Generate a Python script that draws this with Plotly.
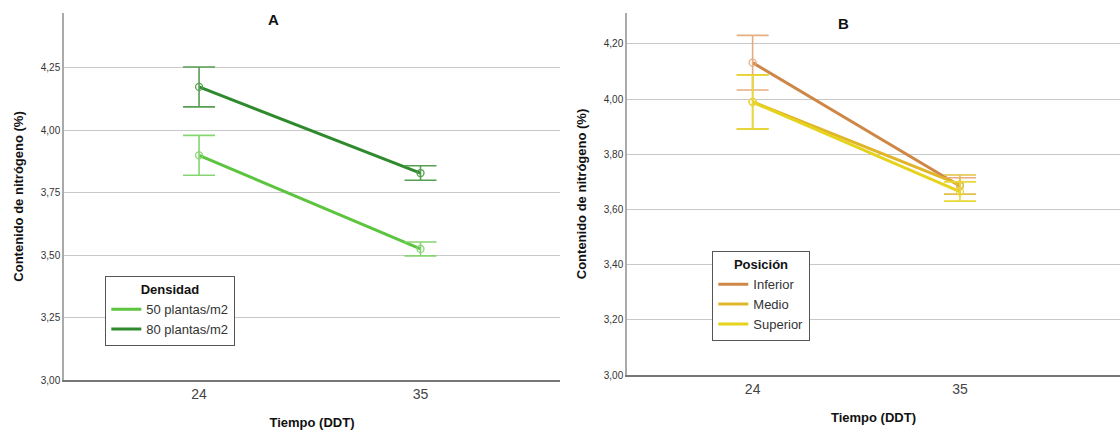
import plotly.graph_objects as go

# ---- data ----
tiempo = ["24", "35"]

# Panel A: Densidad
dens_names = ["50 plantas/m2", "80 plantas/m2"]
dens_means = [[3.90, 3.525], [4.174, 3.829]]
dens_err = [[0.08, 0.028], [0.08, 0.029]]

# Panel B: Posición
pos_names = ["Inferior", "Medio", "Superior"]
pos_means = [[4.132, 3.685], [3.990, 3.690], [3.989, 3.665]]
pos_err = [[0.099, 0.03], [0.098, 0.035], [0.098, 0.035]]

yticks_a = [3.00, 3.25, 3.50, 3.75, 4.00, 4.25]
yticks_b = [3.00, 3.20, 3.40, 3.60, 3.80, 4.00, 4.20]

# ---- styles ----
dens_line = ["#5CC43F", "#2E8A2C"]
dens_bar = ["#86D572", "#559E52"]
pos_line = ["#CE8746", "#E1B52A", "#E5D31E"]
pos_bar = ["#E4AE82", "#E6C040", "#E8D83A"]
FONT = "Liberation Sans, Arial, sans-serif"

fig = go.Figure()

def add_series(name, means, errs, lc, bc, xa, ya, legend):
    fig.add_trace(go.Scatter(
        x=tiempo, y=means, mode="lines", name=name,
        line=dict(color=lc, width=3), xaxis=xa, yaxis=ya, legend=legend))
    fig.add_trace(go.Scatter(
        x=tiempo, y=means, mode="markers", showlegend=False,
        marker=dict(symbol="circle-open", size=7, color=bc, line=dict(width=1.3)),
        error_y=dict(type="data", array=errs, visible=True, color=bc,
                     thickness=1.6, width=16),
        xaxis=xa, yaxis=ya))

for i, n in enumerate(dens_names):
    add_series(n, dens_means[i], dens_err[i], dens_line[i], dens_bar[i], "x", "y", "legend")
for i, n in enumerate(pos_names):
    add_series(n, pos_means[i], pos_err[i], pos_line[i], pos_bar[i], "x2", "y2", "legend2")

tickfont_y = dict(family=FONT, size=10, color="#333333")
tickfont_x = dict(family=FONT, size=14, color="#444444")
titlefont = dict(family=FONT, size=13, color="#111111", weight="bold")

common_x = dict(type="category", showgrid=False, showline=True, linecolor="#777777",
                linewidth=1.5, ticks="", tickfont=tickfont_x, zeroline=False,
                automargin=False,
                title=dict(text="Tiempo (DDT)", font=titlefont, standoff=17))
common_y = dict(showgrid=True, gridcolor="#C8C8C8", gridwidth=1.3, showline=True,
                linecolor="#AAAAAA", linewidth=1.5, tickformat=".2f",
                tickfont=tickfont_y, zeroline=False, ticks="", automargin=False,
                title=dict(text="Contenido de nitrógeno (%)", font=titlefont, standoff=14))

fig.update_layout(
    width=1120, height=430,
    margin=dict(l=0, r=0, t=0, b=0, autoexpand=False),
    paper_bgcolor="white", plot_bgcolor="white",
    separators=",.",
    font=dict(family=FONT),
    xaxis=dict(domain=[64/1120, 560/1120], range=[-0.61, 1.63], anchor="y", **common_x),
    yaxis=dict(domain=[1-380/430, 1-13/430], range=[3.0, 4.47], tickvals=yticks_a,
               anchor="x", **common_y),
    xaxis2=dict(domain=[627/1120, 1.0], range=[-0.606, 1.772], anchor="y2", **common_x),
    yaxis2=dict(domain=[1-375/430, 1-13/430], range=[3.0, 4.312], tickvals=yticks_b,
                anchor="x2", **common_y),
    legend=dict(x=105/1120, y=1-276/430, xanchor="left", yanchor="top",
                bgcolor="white", bordercolor="#555555", borderwidth=1.3,
                font=dict(family=FONT, size=13, color="#333333"),
                title=dict(text="<b>Densidad</b>", side="top center",
                           font=dict(family=FONT, size=13, color="#111111")),
                itemwidth=30, tracegroupgap=0),
    legend2=dict(x=712/1120, y=1-251/430, xanchor="left", yanchor="top",
                 bgcolor="white", bordercolor="#555555", borderwidth=1.3,
                 font=dict(family=FONT, size=13, color="#333333"),
                 title=dict(text="<b>Posición</b>", side="top center",
                            font=dict(family=FONT, size=13, color="#111111")),
                 itemwidth=30, tracegroupgap=0),
    annotations=[
        dict(text="<b>A</b>", x=273/1120, y=1-20/430, xref="paper", yref="paper",
             xanchor="center", yanchor="middle",
             showarrow=False, font=dict(family=FONT, size=15, color="#111111")),
        dict(text="<b>B</b>", x=843/1120, y=1-23/430, xref="paper", yref="paper",
             xanchor="center", yanchor="middle",
             showarrow=False, font=dict(family=FONT, size=15, color="#111111")),
    ],
)

fig.write_html("out.html", config={"displayModeBar": False},
               post_script="document.body.style.margin='0';")
